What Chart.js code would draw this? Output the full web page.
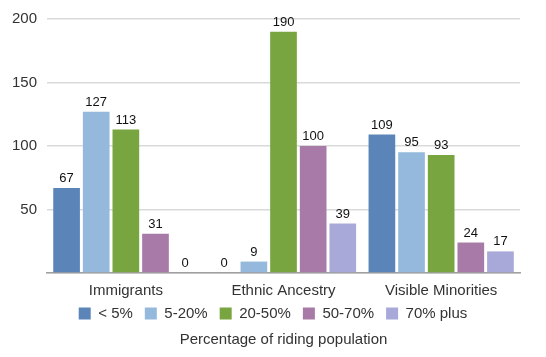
<!DOCTYPE html>
<html>
<head>
<meta charset="utf-8">
<script src="https://cdn.jsdelivr.net/npm/chart.js@4"></script>
<style>
  html, body { margin: 0; padding: 0; background: #fff; }
  #wrap { width: 546px; height: 357px; position: relative; }
</style>
</head>
<body>
<div id="wrap"><canvas id="c" width="546" height="357"></canvas></div>
<script>
const categories = ['Immigrants', 'Ethnic Ancestry', 'Visible Minorities'];
const seriesNames = ['< 5%', '5-20%', '20-50%', '50-70%', '70% plus'];
const under5 = [67, 0, 109];
const from5to20 = [127, 9, 95];
const from20to50 = [113, 190, 93];
const from50to70 = [31, 100, 24];
const over70 = [0, 39, 17];
const yTicks = [0, 50, 100, 150, 200];
const axisTitle = 'Percentage of riding population';

const seriesValues = [under5, from5to20, from20to50, from50to70, over70];
const colors = ['#5b85b8', '#95b9dc', '#78a53f', '#a87aa7', '#a9a9d9'];

const valueLabels = {
  id: 'valueLabels',
  afterDatasetsDraw(chart) {
    const ctx = chart.ctx;
    ctx.save();
    ctx.font = '13px "Liberation Sans", Arial, sans-serif';
    ctx.fillStyle = '#111';
    ctx.textAlign = 'center';
    ctx.textBaseline = 'bottom';
    chart.data.datasets.forEach((ds, i) => {
      const meta = chart.getDatasetMeta(i);
      meta.data.forEach((bar, j) => {
        ctx.fillText(String(ds.data[j]), bar.x, bar.y - 3);
      });
    });
    ctx.restore();
  }
};

// center the legend on the whole canvas and pull it a little closer to the axis labels
const legendPlacement = {
  id: 'legendPlacement',
  afterLayout(chart) {
    const lg = chart.legend;
    if (!lg) return;
    lg.left = 0;
    lg.right = chart.width;
    lg.width = chart.width;
    lg.top -= 6;
    lg.bottom -= 6;
  }
};

new Chart(document.getElementById('c'), {
  type: 'bar',
  data: {
    labels: categories,
    datasets: seriesNames.map((name, i) => ({
      label: name,
      data: seriesValues[i],
      backgroundColor: colors[i],
      borderWidth: 0,
      categoryPercentage: 0.94,
      barPercentage: 0.9
    }))
  },
  options: {
    responsive: false,
    animation: false,
    devicePixelRatio: 1,
    layout: { padding: { left: 2, right: 26, top: 9, bottom: 0 } },
    font: { family: '"Liberation Sans", Arial, sans-serif' },
    scales: {
      x: {
        grid: { display: false, drawTicks: false },
        border: { display: true, color: '#a0a0a0', width: 1.5 },
        ticks: { color: '#333', font: { size: 15 }, padding: 9 },
        afterFit(scale) { scale.height = 27; }
      },
      y: {
        min: 0,
        max: 200,
        afterBuildTicks(scale) { scale.ticks = yTicks.map(v => ({ value: v })); },
        grid: { color: '#dadada', lineWidth: 1.5, drawTicks: false },
        border: { display: false },
        ticks: {
          color: '#333',
          font: { size: 15 },
          padding: 10,
          callback: v => (v === 0 ? '' : v)
        }
      }
    },
    plugins: {
      legend: {
        position: 'bottom',
        labels: {
          boxWidth: 12,
          boxHeight: 12,
          padding: 12,
          color: '#333',
          font: { size: 15 }
        }
      },
      title: {
        display: true,
        position: 'bottom',
        fullSize: false,
        text: axisTitle,
        color: '#333',
        font: { size: 15, weight: 'normal' },
        padding: { top: -6, bottom: 8 }
      },
      tooltip: { enabled: false }
    }
  },
  plugins: [valueLabels, legendPlacement]
});
</script>
</body>
</html>
